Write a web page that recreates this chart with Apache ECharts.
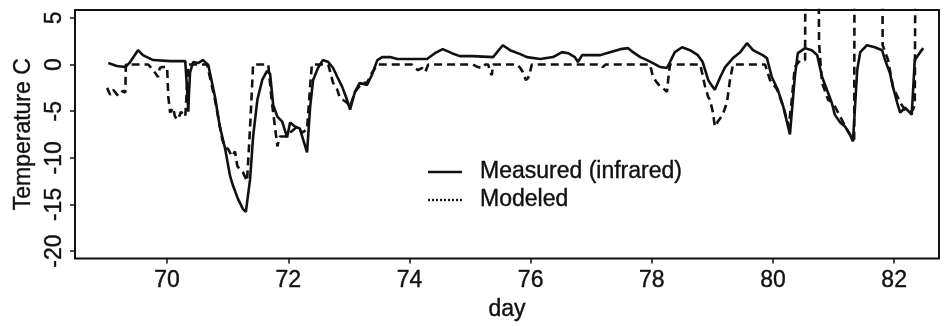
<!DOCTYPE html>
<html>
<head>
<meta charset="utf-8">
<script src="https://cdn.jsdelivr.net/npm/echarts@6/dist/echarts.min.js"></script>
<style>
  html, body { margin: 0; padding: 0; background: #fff; }
  #chart { width: 946px; height: 326px; }
</style>
</head>
<body>
<div id="chart"></div>
<script>
// Surface temperature, measured by infrared sensor vs. model output
const measuredDay = [
  69.03, 69.17, 69.31, 69.39, 69.52, 69.60, 69.77, 70.05, 70.30, 70.33,
  70.35, 70.36, 70.38, 70.43, 70.51, 70.59, 70.68, 70.79, 70.87, 70.96,
  71.04, 71.09, 71.17, 71.25, 71.30, 71.37, 71.42, 71.49, 71.57, 71.65,
  71.70, 71.75, 71.82, 71.90, 71.98, 72.03, 72.11, 72.19, 72.28, 72.31,
  72.36, 72.41, 72.49, 72.57, 72.66, 72.74, 72.81, 72.89, 72.97, 73.02,
  73.10, 73.18, 73.30, 73.38, 73.47, 73.55, 73.68, 73.80, 74.29, 74.42,
  74.55, 74.70, 74.83, 75.05, 75.38, 75.54, 75.66, 75.83, 75.94, 76.16,
  76.37, 76.52, 76.62, 76.73, 76.78, 76.85, 77.15, 77.31, 77.48, 77.61,
  77.69, 77.81, 77.92, 78.02, 78.14, 78.25, 78.30, 78.38, 78.50, 78.63,
  78.76, 78.84, 78.93, 78.96, 79.04, 79.13, 79.21, 79.34, 79.46, 79.57,
  79.67, 79.83, 79.90, 79.98, 80.08, 80.17, 80.28, 80.36, 80.41, 80.53,
  80.64, 80.73, 80.81, 80.89, 80.97, 81.02, 81.11, 81.19, 81.27, 81.32,
  81.39, 81.44, 81.55, 81.68, 81.80, 81.85, 81.93, 81.98, 82.05, 82.10,
  82.18, 82.29, 82.34, 82.43, 82.48
];
const measuredTemp = [
  0.16, -0.16, -0.27, 0.27, 1.54, 1.01, 0.48, 0.37, 0.37, -2.71,
  -5.05, -3.24, -0.80, 0.27, 0.16, 0.48, -0.05, -3.46, -6.65, -9.10,
  -11.97, -13.03, -14.41, -15.48, -15.80, -12.29, -7.71, -3.78, -1.65, -0.69,
  -1.01, -4.31, -5.59, -6.12, -7.82, -6.22, -6.65, -6.86, -8.78, -9.41,
  -4.63, -1.65, -0.37, 0.48, 0.27, -0.37, -1.33, -2.39, -3.78, -4.84,
  -2.93, -1.97, -2.18, -1.12, 0.48, 0.80, 0.80, 0.59, 0.59, 1.22,
  1.65, 1.22, 0.90, 0.90, 0.80, 2.07, 1.54, 1.12, 0.80, 0.59,
  0.80, 1.33, 1.22, 0.80, 0.27, 1.01, 1.01, 1.33, 1.65, 1.76,
  1.33, 0.80, 0.48, 0.16, -0.27, -0.37, 0.27, 1.33, 1.86, 1.54,
  1.01, 0.27, -1.65, -1.97, -2.71, -1.33, -0.27, 0.69, 1.33, 2.29,
  1.54, 1.01, 0.69, -1.33, -2.71, -4.52, -7.50, -1.33, 1.22, 1.76,
  1.54, 1.01, -1.33, -2.71, -4.10, -5.37, -6.22, -6.65, -7.50, -8.24,
  -0.59, 1.33, 2.07, 1.86, 1.54, 0.48, -0.90, -2.39, -4.10, -5.16,
  -4.63, -5.37, 0.48, 1.33, 1.76
];

// Model output; the large excursions run off the top of the panel
const modeledDay = [
  69.01, 69.06, 69.11, 69.14, 69.19, 69.22, 69.27, 69.31, 69.32, 69.60,
  69.69, 69.77, 69.85, 69.88, 69.92, 70.00, 70.02, 70.05, 70.10, 70.13,
  70.18, 70.23, 70.26, 70.30, 70.35, 70.41, 70.66, 70.79, 70.91, 70.96,
  71.01, 71.07, 71.12, 71.16, 71.20, 71.25, 71.32, 71.37, 71.42, 71.45,
  71.67, 71.73, 71.78, 71.82, 71.86, 71.98, 72.03, 72.15, 72.23, 72.31,
  72.36, 72.39, 72.52, 72.66, 72.74, 72.81, 72.85, 72.90, 72.97, 73.02,
  73.10, 73.22, 73.30, 73.38, 73.47, 74.04, 74.09, 74.14, 74.21, 74.26,
  74.29, 74.31, 75.05, 75.13, 75.20, 75.25, 75.30, 75.33, 75.36, 75.38,
  75.78, 75.83, 75.87, 75.92, 75.96, 75.99, 76.02, 77.15, 77.19, 77.24,
  77.97, 78.02, 78.09, 78.14, 78.18, 78.25, 78.27, 78.30, 78.80, 78.88,
  78.93, 78.96, 79.01, 79.04, 79.09, 79.17, 79.24, 79.29, 79.34, 79.87,
  79.95, 80.07, 80.17, 80.23, 80.26, 80.31, 80.36, 80.45, 80.53, 80.54,
  80.74, 80.76, 80.81, 80.91, 80.99, 81.11, 81.22, 81.30, 81.34, 81.35,
  81.80, 81.81, 81.90, 81.98, 82.10, 82.18, 82.26, 82.31, 82.34, 82.36,
  82.39
];
const modeledTemp = [
  -2.50, -3.24, -2.71, -2.93, -3.35, -3.46, -2.82, -3.03, 0, 0,
  0, -0.59, -1.33, -0.37, -0.27, -0.27, -3.46, -5.16, -4.63, -5.59,
  -5.90, -5.05, -5.37, -5.59, 0, 0, 0, -3.78, -8.03, -8.88,
  -9.10, -9.84, -9.31, -10.90, -11.22, -11.54, -12.50, -6.65, 0, 0,
  0, -4.10, -6.65, -8.78, -7.71, -7.71, -7.29, -6.65, -7.29, -6.97,
  -2.39, 0, 0, 0, -1.97, -2.71, -3.56, -3.78, -4.10, -4.52,
  -2.93, -1.97, -1.97, -0.90, 0, 0, -0.37, -0.59, -0.37, -0.80,
  -1.01, 0, 0, -0.27, -0.37, 0, 0, -0.80, -1.12, 0,
  0, -0.37, -0.80, -1.65, -1.44, -0.80, 0, 0, -0.27, 0,
  0, -1.33, -1.97, -2.39, -2.50, -2.93, -1.65, 0, 0, -2.39,
  -3.46, -3.78, -5.16, -6.65, -6.12, -5.37, -4.10, -1.65, 0, 0,
  -1.65, -2.71, -4.52, -5.90, -6.65, -3.78, -0.27, 0.48, 0.48, 25,
  25, 2.29, -1.97, -3.78, -4.10, -5.59, -6.97, -7.82, -8.03, 25,
  25, 2.07, 0.48, -2.39, -4.10, -4.84, -5.16, -4.84, -4.31, 25,
  25
];

const dayTicks = [70, 72, 74, 76, 78, 80, 82];
const tempTicks = [-20, -15, -10, -5, 0, 5];
const seriesNames = ['Measured (infrared)', 'Modeled'];

const FONT = 'Liberation Sans, Arial, Helvetica, sans-serif';
const INK = '#111';
const labelText = { fontFamily: FONT, fontSize: 23, color: INK, textBorderColor: INK, textBorderWidth: 0.4 };

const chart = echarts.init(document.getElementById('chart'), null, { renderer: 'canvas' });

const pairs = (xs, ys) => xs.map((x, i) => [x, ys[i]]);

// Key drawn inside the panel: a short line sample followed by the series name
function keyEntry(y, name, dash) {
  return [
    {
      type: 'line',
      shape: { x1: 428, y1: y, x2: 462, y2: y },
      style: { stroke: INK, lineWidth: 2.4, lineDash: dash }
    },
    {
      type: 'text',
      x: 480, y: y,
      style: {
        text: name, verticalAlign: 'middle', align: 'left',
        font: '23px ' + FONT, fill: INK, stroke: INK, lineWidth: 0.4
      }
    }
  ];
}

chart.setOption({
  animation: false,
  backgroundColor: '#fff',
  grid: {
    left: 75, right: 7, top: 10, bottom: 66,
    show: true, borderColor: INK, borderWidth: 2, backgroundColor: 'transparent'
  },
  xAxis: {
    type: 'value',
    min: 68.48, max: 82.74,
    name: 'day',
    nameLocation: 'middle',
    nameGap: 38,
    nameTextStyle: labelText,
    axisLine: { show: false, onZero: false },
    splitLine: { show: false },
    axisTick: { show: true, length: 5, customValues: dayTicks, lineStyle: { color: INK, width: 1.5 } },
    axisLabel: Object.assign({ customValues: dayTicks, margin: 11 }, labelText)
  },
  yAxis: {
    type: 'value',
    min: -20.8, max: 5.85,
    name: 'Temperature C',
    nameLocation: 'middle',
    nameGap: 38,
    nameRotate: 90,
    nameTextStyle: labelText,
    axisLine: { show: false, onZero: false },
    splitLine: { show: false },
    axisTick: { show: true, length: 5, customValues: tempTicks, lineStyle: { color: INK, width: 1.5 } },
    axisLabel: Object.assign({ customValues: tempTicks, rotate: 90, margin: 9 }, labelText)
  },
  graphic: [].concat(
    keyEntry(172, seriesNames[0], null),
    keyEntry(200, seriesNames[1], [2, 2])
  ),
  series: [
    {
      name: seriesNames[0],
      type: 'line',
      data: pairs(measuredDay, measuredTemp),
      symbol: 'none',
      clip: true,
      lineStyle: { color: INK, width: 2.6, type: 'solid' }
    },
    {
      name: seriesNames[1],
      type: 'line',
      data: pairs(modeledDay, modeledTemp),
      symbol: 'none',
      clip: true,
      lineStyle: { color: INK, width: 2.6, type: [8, 5] }
    }
  ]
});
</script>
</body>
</html>
